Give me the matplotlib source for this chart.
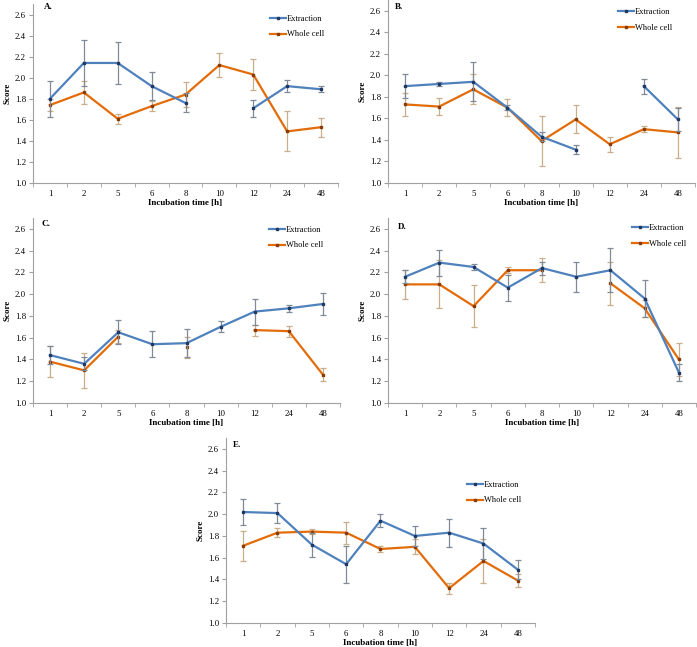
"""Score vs incubation time, five panels (A-E), Extraction vs Whole cell."""
import matplotlib
matplotlib.use("Agg")
import matplotlib.pyplot as plt
from matplotlib.lines import Line2D
import numpy as np

nan = np.nan

hours = ["1", "2", "5", "6", "8", "10", "12", "24", "48"]

# Panel A
a_ext = [1.80, 2.14, 2.14, 1.92, 1.76, nan, 1.71, 1.92, 1.89]
a_ext_err = [0.17, 0.22, 0.20, 0.13, 0.09, nan, 0.08, 0.06, 0.03]
a_wc = [1.74, 1.86, 1.61, 1.73, 1.84, 2.12, 2.03, 1.49, 1.53]
a_wc_err = [0.06, 0.11, 0.05, 0.05, 0.12, 0.11, 0.15, 0.19, 0.09]

# Panel B
b_ext = [1.90, 1.92, 1.94, 1.70, 1.43, 1.31, nan, 1.90, 1.59]
b_ext_err = [0.11, 0.02, 0.18, 0.02, 0.04, 0.04, nan, 0.07, 0.11]
b_wc = [1.73, 1.71, 1.87, 1.70, 1.39, 1.59, 1.36, 1.50, 1.47]
b_wc_err = [0.11, 0.08, 0.14, 0.08, 0.23, 0.13, 0.07, 0.03, 0.24]

# Panel C
c_ext = [1.44, 1.36, 1.65, 1.54, 1.55, 1.70, 1.84, 1.87, 1.91]
c_ext_err = [0.08, 0.06, 0.11, 0.12, 0.13, 0.05, 0.12, 0.03, 0.10]
c_wc = [1.38, 1.30, 1.61, nan, 1.51, nan, 1.67, 1.66, 1.26]
c_wc_err = [0.14, 0.16, 0.06, nan, 0.10, nan, 0.05, 0.05, 0.06]

# Panel D
d_ext = [2.16, 2.29, 2.25, 2.06, 2.24, 2.16, 2.22, 1.96, 1.28]
d_ext_err = [0.06, 0.12, 0.03, 0.12, 0.06, 0.14, 0.20, 0.17, 0.08]
d_wc = [2.09, 2.09, 1.89, 2.22, 2.22, nan, 2.10, 1.87, 1.40]
d_wc_err = [0.13, 0.22, 0.19, 0.03, 0.11, nan, 0.20, 0.08, 0.15]

# Panel E
e_ext = [2.02, 2.01, 1.72, 1.54, 1.94, 1.80, 1.83, 1.73, 1.49]
e_ext_err = [0.12, 0.09, 0.11, 0.17, 0.06, 0.09, 0.13, 0.14, 0.09]
e_wc = [1.71, 1.83, 1.84, 1.83, 1.68, 1.70, 1.32, 1.57, 1.39]
e_wc_err = [0.14, 0.04, 0.02, 0.10, 0.03, 0.07, 0.05, 0.20, 0.06]

yticks = [1.0, 1.2, 1.4, 1.6, 1.8, 2.0, 2.2, 2.4, 2.6]

EXT_COLOR = "#4F81BD"
EXT_MARK = "#1F3864"
EXT_ERR = "#7F8A96"
WC_COLOR = "#E36C09"
WC_MARK = "#8A3A05"
WC_ERR = "#C9AE8C"

W, H = 697, 647
plt.rcParams["font.family"] = ["Liberation Serif", "DejaVu Serif"]


def px_box(left, right, top, bottom):
    """Pixel box -> figure fraction rect."""
    return [left / W, 1 - bottom / H, (right - left) / W, (bottom - top) / H]


# (label, ext, ext_err, wc, wc_err, axes px box, label px, legend px)
panels = [
    ("A.", a_ext, a_ext_err, a_wc, a_wc_err, (33, 338, 4, 183), (44, 7), (270, 20)),
    ("B.", b_ext, b_ext_err, b_wc, b_wc_err, (388, 695, 0, 183), (395, 7), (618, 13)),
    ("C.", c_ext, c_ext_err, c_wc, c_wc_err, (33, 340, 218, 403), (42, 224), (269, 231)),
    ("D.", d_ext, d_ext_err, d_wc, d_wc_err, (388, 696, 218, 403), (398, 227), (632, 229)),
    ("E.", e_ext, e_ext_err, e_wc, e_wc_err, (226, 535, 438, 623), (233, 445), (467, 486)),
]

fig = plt.figure(figsize=(W / 100, H / 100), dpi=100)
x = np.arange(len(hours))

for label, ext, ext_err, wc, wc_err, box, lab_px, leg_px in panels:
    ax = fig.add_axes(px_box(*box))
    ax.errorbar(x, wc, yerr=wc_err, color=WC_COLOR, ecolor=WC_ERR, lw=1.6,
                elinewidth=0.9, capsize=2, capthick=0.9, marker="s", ms=1.8,
                mfc=WC_MARK, mec=WC_MARK, zorder=2)
    ax.errorbar(x, ext, yerr=ext_err, color=EXT_COLOR, ecolor=EXT_ERR, lw=1.6,
                elinewidth=0.9, capsize=2, capthick=0.9, marker="s", ms=1.8,
                mfc=EXT_MARK, mec=EXT_MARK, zorder=3)

    ax.set_xlim(-0.5, len(hours) - 0.5)
    ax.set_ylim(1.0, 2.7)
    ax.set_yticks(yticks)
    ax.set_yticklabels([f"{v:.1f}" for v in yticks])
    ax.set_xticks(x)
    ax.set_xticklabels(hours)
    ax.set_xticks(np.arange(-0.5, len(hours)), minor=True)
    ax.tick_params(axis="x", which="major", length=0, labelsize=6.3, pad=5)
    ax.tick_params(axis="x", which="minor", length=3, color="#A0A0A0")
    ax.tick_params(axis="y", length=3, color="#A0A0A0", labelsize=6.3, pad=2)
    for s in ("top", "right"):
        ax.spines[s].set_visible(False)
    for s in ("left", "bottom"):
        ax.spines[s].set_color("#A0A0A0")
        ax.spines[s].set_linewidth(0.8)

    ax.set_xlabel("Incubation time [h]", fontsize=6.5, fontweight="bold", labelpad=1)
    ax.set_ylabel("Score", fontsize=6.5, fontweight="bold", labelpad=2)

    fig.text(lab_px[0] / W, 1 - lab_px[1] / H, label, fontsize=6.5, fontweight="bold",
             va="center", ha="left")

    handles = [
        Line2D([], [], color=EXT_COLOR, lw=1.6, marker="s", ms=1.8,
               mfc=EXT_MARK, mec=EXT_MARK),
        Line2D([], [], color=WC_COLOR, lw=1.6, marker="s", ms=1.8,
               mfc=WC_MARK, mec=WC_MARK),
    ]
    ax.legend(handles, ["Extraction", "Whole cell"],
              loc="upper left", bbox_to_anchor=(leg_px[0] / W, 1 - (leg_px[1] - 5) / H),
              bbox_transform=fig.transFigure, frameon=False, fontsize=6,
              handlelength=1.9, handletextpad=0.15, labelspacing=0.9,
              borderpad=0, borderaxespad=0)

fig.savefig("out.png", dpi=100)
plt.close(fig)
